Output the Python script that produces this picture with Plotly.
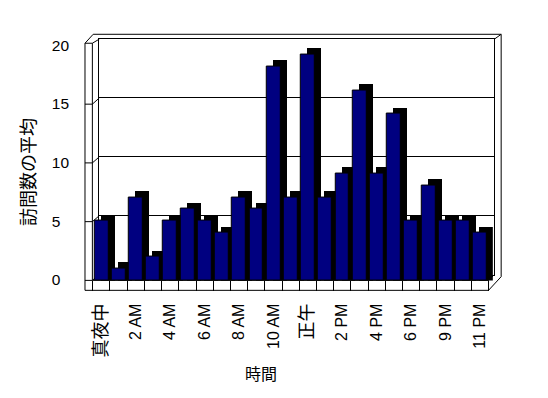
import plotly.graph_objects as go

# ---- data ----
HOURS = ["真夜中", "1 AM", "2 AM", "3 AM", "4 AM", "5 AM", "6 AM", "7 AM", "8 AM", "9 AM",
         "10 AM", "11 AM", "正午", "1 PM", "2 PM", "3 PM", "4 PM", "5 PM", "6 PM", "7 PM",
         "9 PM", "10 PM", "11 PM"]
VISITS = [5, 1, 7, 2, 5, 6, 5, 4, 7, 6, 18, 7, 19, 7, 9, 16, 9, 14, 5, 8, 5, 5, 4]
Y_TICKS = [0, 5, 10, 15, 20]
X_TITLE = "時間"
Y_TITLE = "訪問数の平均"

W, H = 548, 398
LATIN = "Liberation Sans, Arial, Noto Sans CJK JP"
CJK = "Noto Sans CJK JP, Liberation Sans"

# vertical calibration of the page capture
Y_OFF, Y_SCALE = 9.1, 0.9616


def px(x):
    return x / W


def py(y):
    return 1 - ((y - Y_OFF) / Y_SCALE) / H


def tick_label(i, h):
    if i % 2:
        return ""
    if h.isascii():
        return h
    return f"<span style='font-size:18px'>{h}</span>"


ticktext = [tick_label(i, h) for i, h in enumerate(HOURS)]

# 3D depth offsets (in axis units)
DX = 0.35
DY = 0.55
BW = 0.81

fig = go.Figure()

# back wall subplot (x, y) - invisible trace just to create it
fig.add_trace(go.Scatter(x=HOURS, y=VISITS, xaxis="x", yaxis="y", mode="markers",
                         marker=dict(opacity=0), showlegend=False, hoverinfo="skip"))

# shadow (side + top faces)
fig.add_trace(go.Bar(x=HOURS, y=[v + DY for v in VISITS], base=0, width=BW, offset=-BW / 2 + DX,
                     marker=dict(color="black", line=dict(width=0)),
                     xaxis="x2", yaxis="y2", showlegend=False, hoverinfo="skip"))
# front faces
fig.add_trace(go.Bar(x=HOURS, y=VISITS, width=BW, offset=-BW / 2,
                     marker=dict(color="#000080", line=dict(color="black", width=1)),
                     xaxis="x2", yaxis="y2", showlegend=False))
# label axis trace
fig.add_trace(go.Scatter(x=HOURS, y=VISITS, xaxis="x2", yaxis="y3", mode="markers",
                         marker=dict(opacity=0), showlegend=False, hoverinfo="skip"))

# ---- decorative 3D frame ----
shapes = []


def line(pts):
    d = "M " + " L ".join(f"{px(x):.5f},{py(y):.5f}" for x, y in pts)
    shapes.append(dict(type="path", path=d, xref="paper", yref="paper",
                       line=dict(color="black", width=1), layer="below"))


FX0, FX1 = 83.3, 90.7      # left wall front face
FY_TOP = 43.5
FLOOR_T, FLOOR_B = 281.7, 291.7
RIGHT_F = 488.3
BACK_L, BACK_R = 97.7, 494.3
BACK_TOP, BACK_BOT = 39.3, 275.8
OUT_R, OUT_TOP = 501.0, 34.5

line([(FX0, FLOOR_B), (FX0, FY_TOP), (FX1, FY_TOP), (FX1, FLOOR_T)])
line([(FX0, FY_TOP), (91.5, OUT_TOP), (OUT_R, OUT_TOP), (OUT_R, 278.0), (RIGHT_F, FLOOR_B)])
line([(FX1, FY_TOP), (BACK_L, BACK_TOP)])
line([(BACK_R, BACK_TOP), (OUT_R, OUT_TOP)])
line([(FX0, FLOOR_B), (RIGHT_F, FLOOR_B), (RIGHT_F, FLOOR_T), (FX1, FLOOR_T)])
line([(RIGHT_F, FLOOR_T), (BACK_R, BACK_BOT)])
for v in Y_TICKS[:-1]:
    yf = FLOOR_T - v * 11.8
    yb = BACK_BOT - v * (BACK_BOT - BACK_TOP) / 20
    line([(FX0, yf), (FX1, yf), (BACK_L, yb)])

fig.update_layout(
    width=W, height=H, autosize=False,
    margin=dict(l=0, r=0, t=0, b=0, pad=0),
    paper_bgcolor="white", plot_bgcolor="rgba(0,0,0,0)",
    barmode="overlay", bargap=0,
    showlegend=False,
    shapes=shapes,
    xaxis=dict(domain=[px(BACK_L), px(BACK_R)], type="category", range=[-0.5, len(HOURS) - 0.5],
               showline=True, mirror=True, linecolor="black", linewidth=1,
               showticklabels=False, ticks="", showgrid=False, zeroline=False, anchor="y"),
    yaxis=dict(domain=[py(BACK_BOT), py(BACK_TOP)], range=[0, 20], tickvals=Y_TICKS,
               showgrid=True, gridcolor="black", gridwidth=1, showline=True, mirror=True,
               linecolor="black", linewidth=1, showticklabels=False, ticks="",
               zeroline=False, anchor="x"),
    xaxis2=dict(domain=[px(91.1), px(91.1 + 23.25 * 17.27)], type="category",
                range=[-0.5, len(HOURS) - 0.25],
                tickmode="array", tickvals=HOURS, ticktext=ticktext,
                tickson="boundaries", ticks="outside", ticklen=10, tickwidth=1, tickcolor="black",
                tickangle=-90, tickfont=dict(family=LATIN, size=16, color="black"),
                ticklabelstandoff=19,
                showline=False, showgrid=False, zeroline=False, anchor="y2"),
    yaxis2=dict(domain=[py(FLOOR_T), py(42.8)], range=[0, 20], visible=False, anchor="x2"),
    yaxis3=dict(domain=[py(281.0), py(45.5)], range=[0, 20], tickvals=Y_TICKS,
                anchor="free", position=px(49.0), side="right",
                ticks="", showline=False, showgrid=False, zeroline=False,
                tickfont=dict(family=LATIN, size=15.5, color="black")),
    annotations=[
        dict(text=X_TITLE, x=px(260), y=py(375), xref="paper", yref="paper",
             showarrow=False, font=dict(family=CJK, size=16, color="black"),
             xanchor="center", yanchor="middle"),
        dict(text=Y_TITLE, x=px(25), y=py(173), xref="paper", yref="paper",
             showarrow=False, textangle=-90, font=dict(family=CJK, size=18, color="black"),
             xanchor="center", yanchor="middle"),
    ],
)

fig.write_html(
    "out.html",
    config={"displayModeBar": False},
    post_script=("document.documentElement.style.margin='0';"
                 "document.body.style.margin='0';"),
)
